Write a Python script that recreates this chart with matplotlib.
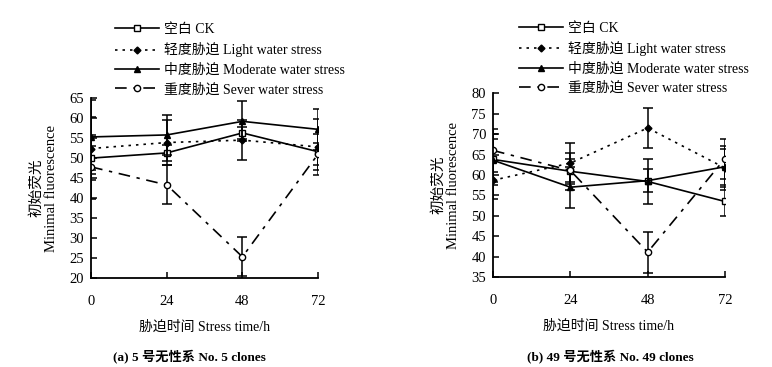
import matplotlib
matplotlib.use("Agg")
import matplotlib.pyplot as plt

# Minimal fluorescence under water stress, two clones
times = [0, 24, 48, 72]
labels = ["空白 CK", "轻度胁迫 Light water stress",
          "中度胁迫 Moderate water stress", "重度胁迫 Sever water stress"]

# clone No. 5
ck_5 = [50.0, 51.3, 56.3, 51.6]
light_5 = [52.4, 53.9, 54.5, 52.8]
moderate_5 = [55.3, 55.8, 59.2, 57.2]
severe_5 = [47.8, 43.3, 25.3, 51.0]
ck_5_err = [3.0, 2.0, 1.5, 4.5]
light_5_err = [7.9, 5.6, 5.0, 7.0]
moderate_5_err = [9.2, 5.0, 5.0, 5.2]
severe_5_err = [8.0, 4.9, 4.9, 2.8]

# clone No. 49
ck_49 = [63.8, 60.9, 58.4, 53.5]
light_49 = [58.7, 62.9, 71.5, 61.7]
moderate_49 = [63.6, 57.0, 58.6, 62.0]
severe_49 = [66.0, 61.1, 41.1, 64.0]
ck_49_err = [6.3, 4.5, 5.6, 3.5]
light_49_err = [4.7, 5.0, 5.0, 5.5]
moderate_49_err = [5.3, 5.0, 2.8, 4.4]
severe_49_err = [5.3, 2.8, 5.0, 4.9]

plt.rcParams["font.family"] = ["Liberation Serif", "Noto Sans CJK SC"]
plt.rcParams["font.size"] = 10.5

styles = [
    dict(linestyle="-", marker="s", mfc="white"),
    dict(linestyle=(0, (1.5, 3)), marker="D", mfc="black", markersize=3.5),
    dict(linestyle="-", marker="^", mfc="black"),
    dict(linestyle=(0, (7, 4, 2, 4)), marker="o", mfc="white"),
]

fig = plt.figure(figsize=(7.72, 3.67), dpi=100)


def draw_panel(rect, series, errs, ylim, yticks, legend_xy, caption, caption_x):
    ax = fig.add_axes(rect)
    for vals, err, lab, st in zip(series, errs, labels, styles):
        ax.errorbar(times, vals, yerr=err, fmt="none", ecolor="black",
                    elinewidth=1.1, capsize=3.6, capthick=1.1)
        kw = dict(color="black", linewidth=1.2, markersize=4.5, mec="black", mew=1.0)
        kw.update(st)
        ax.plot(times, vals, label=lab, **kw)
    ax.set_xlim(0, 72)
    ax.set_ylim(*ylim)
    ax.set_xticks(times)
    ax.set_yticks(yticks)
    ax.spines["top"].set_visible(False)
    ax.spines["right"].set_visible(False)
    ax.spines["left"].set_linewidth(1.3)
    ax.spines["bottom"].set_linewidth(1.3)
    ax.tick_params(axis="x", direction="in", length=4, width=1.1, pad=12)
    ax.tick_params(axis="y", direction="in", length=4, width=1.1, pad=5)
    ax.set_ylabel("初始荧光\nMinimal fluorescence", fontsize=10.5, labelpad=8,
                  linespacing=1.2)
    ax.set_xlabel("胁迫时间 Stress time/h", fontsize=10, labelpad=9)
    ax.legend(loc="upper left", bbox_to_anchor=legend_xy, bbox_transform=fig.transFigure,
              frameon=False, borderaxespad=0, borderpad=0, handlelength=3.2,
              handletextpad=0.35, labelspacing=0.45, fontsize=10)
    fig.text(caption_x, 0.03, caption, ha="center", va="center",
             fontsize=9.5, fontweight="bold")
    return ax


draw_panel([0.118, 0.2425, 0.294, 0.490],
           [ck_5, light_5, moderate_5, severe_5],
           [ck_5_err, light_5_err, moderate_5_err, severe_5_err],
           (20, 65), range(20, 66, 5), (0.149, 0.937),
           "(a) 5 号无性系 No. 5 clones", 0.245)

draw_panel([0.6386, 0.245, 0.3005, 0.501],
           [ck_49, light_49, moderate_49, severe_49],
           [ck_49_err, light_49_err, moderate_49_err, severe_49_err],
           (35, 80), range(35, 81, 5), (0.672, 0.940),
           "(b) 49 号无性系 No. 49 clones", 0.790)

fig.savefig("out.png", dpi=100)
